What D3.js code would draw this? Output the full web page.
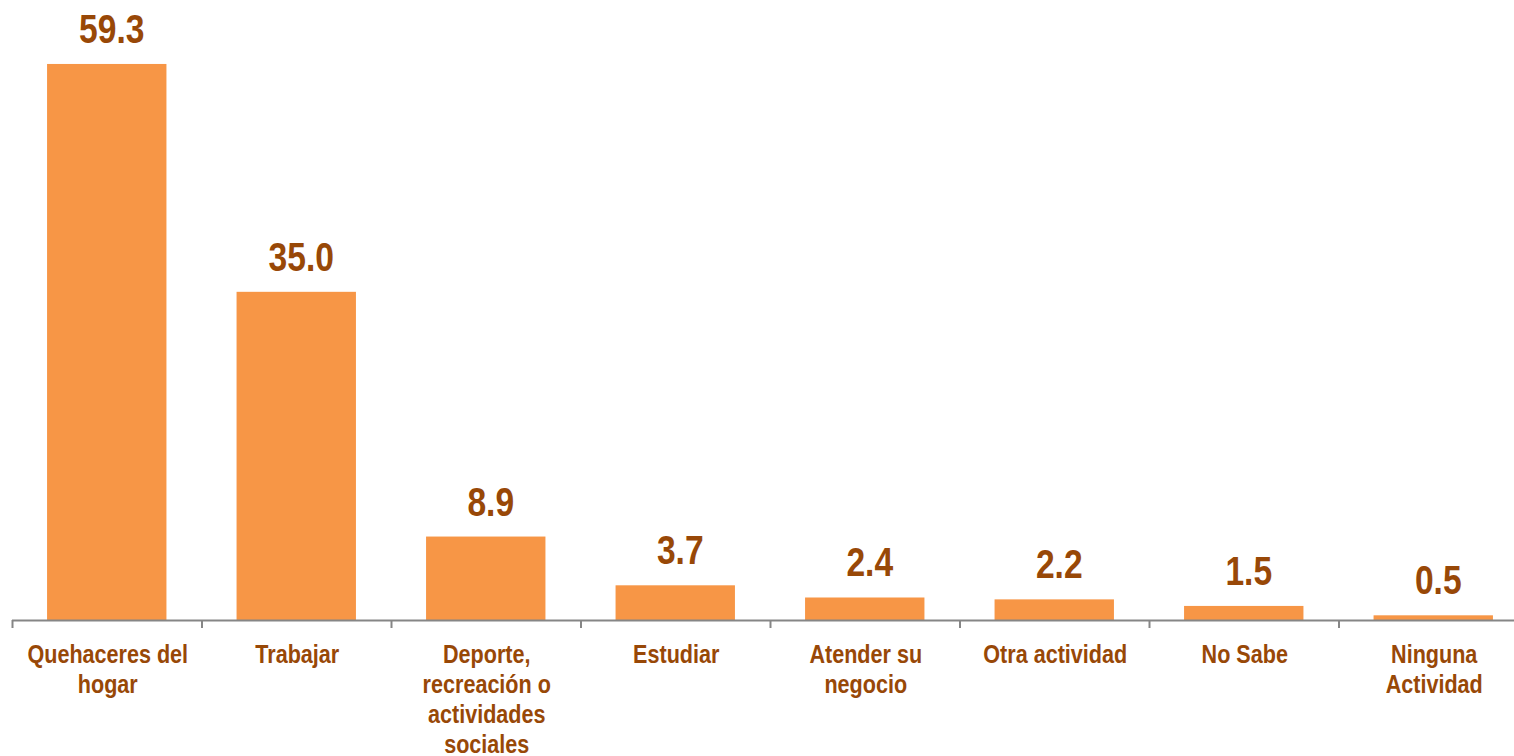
<!DOCTYPE html>
<html><head><meta charset="utf-8">
<script src="https://cdn.jsdelivr.net/npm/d3@7"></script>
<style>
html,body{margin:0;padding:0;background:#fff;}
svg text{font-family:"Liberation Sans Narrow","Arial Narrow","Liberation Sans",sans-serif;font-weight:bold;}
</style></head>
<body>
<svg id="chart" width="1514" height="756"></svg>
<script>
const categories = ["Quehaceres del\nhogar","Trabajar","Deporte,\nrecreación o\nactividades\nsociales","Estudiar","Atender su\nnegocio","Otra actividad","No Sabe","Ninguna\nActividad"];
const values = [59.3, 35.0, 8.9, 3.7, 2.4, 2.2, 1.5, 0.5];

const svg = d3.select("#chart");
const x = d3.scaleBand().domain(categories).range([12, 1528]).paddingInner(0.37).paddingOuter(0.185);
const y = d3.scaleLinear().domain([0, 60]).range([620, 57.4]);
const barColor = "#F79646", textColor = "#984807", axisColor = "#868686";
// condensed rendering to mimic a narrow bold face
const narrow = 0.82;

svg.selectAll("rect.bar").data(values).join("rect")
  .attr("class","bar")
  .attr("x",(d,i)=>x(categories[i]))
  .attr("width",x.bandwidth())
  .attr("y",d=>y(d))
  .attr("height",d=>y(0)-y(d))
  .attr("fill",barColor);

svg.selectAll("text.val").data(values).join("text")
  .attr("class","val")
  .attr("transform",(d,i)=>`translate(${x(categories[i])+x.bandwidth()/2+5},${y(d)-21}) scale(${narrow},1)`)
  .attr("text-anchor","middle")
  .attr("font-size",41)
  .attr("fill",textColor)
  .text(d=>d.toFixed(1));

// axis
const step = x.step();
const axisG = svg.append("g");
axisG.append("line").attr("x1",12).attr("x2",1528).attr("y1",620.5).attr("y2",620.5)
  .attr("stroke",axisColor).attr("stroke-width",2);
const tickPos = d3.range(categories.length+1).map(i=>12 + i*step);
axisG.selectAll("line.tick").data(tickPos).join("line").attr("class","tick")
  .attr("x1",d=>d+0.5).attr("x2",d=>d+0.5).attr("y1",620).attr("y2",628)
  .attr("stroke",axisColor).attr("stroke-width",2);

const labels = svg.selectAll("text.cat").data(categories).join("text")
  .attr("class","cat")
  .attr("text-anchor","middle")
  .attr("font-size",26)
  .attr("fill",textColor)
  .attr("transform",d=>`translate(${x(d)+x.bandwidth()/2+1},663) scale(0.83,1)`);
labels.each(function(d){
  const t = d3.select(this);
  d.split("\n").forEach((line,i)=>{
    t.append("tspan").attr("x",0).attr("y",i*30).text(line);
  });
});
</script>
</body></html>
